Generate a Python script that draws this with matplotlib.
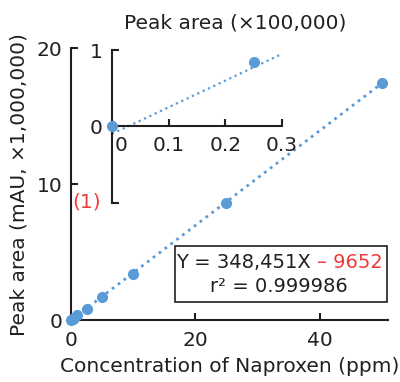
import matplotlib.pyplot as plt
import matplotlib.transforms as mtransforms
from matplotlib.patches import Rectangle

plt.rcParams['font.family'] = ['DejaVu Sans']

# calibration data (peak area in units of 1,000,000)
conc = [0, 0.25, 0.5, 1, 2.5, 5, 10, 25, 50]
area = [0, 0.08, 0.17, 0.34, 0.80, 1.67, 3.36, 8.58, 17.4]

# inset data (peak area in units of 100,000)
conc_low = [0, 0.25]
area_low = [0, 0.84]

slope = 348451
intercept = -9652

blue = '#5b9bd5'
dark = '#231f20'
red = '#ee3b3b'
fs = 14.5

fig = plt.figure(figsize=(4, 3.82), dpi=100)

# main plot
ax = fig.add_axes([0.1775, 0.162, 0.7925, 0.712])
ax.plot(conc, area, 'o', color=blue, markersize=7, clip_on=False, zorder=3)
fx = [0, 50]
fy = [(slope * v + intercept) / 1e6 for v in fx]
ax.plot(fx, fy, ':', color=blue, lw=2, clip_on=False)
ax.set_xlim(0, 51)
ax.set_ylim(0, 20)
ax.set_xticks([0, 20, 40])
ax.set_yticks([0, 10, 20])
for s in ['top', 'right']:
    ax.spines[s].set_visible(False)
for s in ['left', 'bottom']:
    ax.spines[s].set_linewidth(1.5)
    ax.spines[s].set_color(dark)
ax.tick_params(direction='in', length=5, width=1.5, color=dark,
               labelsize=fs, labelcolor=dark, pad=6)
ax.tick_params(axis='x', pad=8)
ax.set_xlabel('Concentration of Naproxen (ppm)', fontsize=fs, color=dark, labelpad=5)
ax.set_ylabel('Peak area (mAU, ×1,000,000)', fontsize=fs, color=dark, labelpad=6)

# equation box
box = Rectangle((175 / 400, (382 - 302) / 382), 212 / 400, 56 / 382,
                transform=fig.transFigure, fill=False, edgecolor=dark, lw=1.2)
fig.patches.append(box)
t1 = fig.text(176 / 400, (382 - 262) / 382, 'Y = 348,451X ', fontsize=14,
              color=dark, ha='left', va='center')
fig.canvas.draw()
ax.annotate('– 9652', xy=(1, 0), xycoords=t1, ha='left', va='bottom',
            fontsize=14, color=red)
fig.text(279 / 400, (382 - 287) / 382, 'r² = 0.999986', fontsize=14,
         color=dark, ha='center', va='center')

# inset
ins = fig.add_axes([0.28, 0.4686, 0.425, 0.4005])
ins.patch.set_alpha(0)
ins.plot(conc_low, area_low, 'o', color=blue, markersize=7, clip_on=False, zorder=3)
ix = [0, 0.3]
iy = [(slope * v + intercept) / 1e5 for v in ix]
ins.plot(ix, iy, ':', color=blue, lw=1.6, clip_on=False)
ins.set_xlim(0, 0.3)
ins.set_ylim(-1, 1)
ins.spines['bottom'].set_position(('data', 0))
ins.spines['left'].set_position(('data', 0))
for s in ['top', 'right']:
    ins.spines[s].set_visible(False)
for s in ['left', 'bottom']:
    ins.spines[s].set_linewidth(1.5)
    ins.spines[s].set_color(dark)
ins.set_xticks([0, 0.1, 0.2, 0.3])
ins.set_xticklabels(['0', '0.1', '0.2', '0.3'])
ins.set_yticks([-1, 0, 1])
ins.set_yticklabels(['', '0', '1'])
ins.tick_params(direction='in', length=5, width=1.5, color=dark,
                labelsize=fs, labelcolor=dark)
ins.tick_params(axis='x', pad=7)
ins.tick_params(axis='y', pad=7)
lab0 = ins.get_xticklabels()[0]
lab0.set_transform(lab0.get_transform() +
                   mtransforms.ScaledTranslation(9 / 100, 0, fig.dpi_scale_trans))
fig.text(235 / 400, (382 - 23) / 382, 'Peak area (×100,000)', fontsize=fs,
         color=dark, ha='center', va='center')
fig.text(87 / 400, (382 - 202) / 382, '(1)', fontsize=fs, color=red,
         ha='center', va='center')

fig.savefig('out.png', dpi=100)
